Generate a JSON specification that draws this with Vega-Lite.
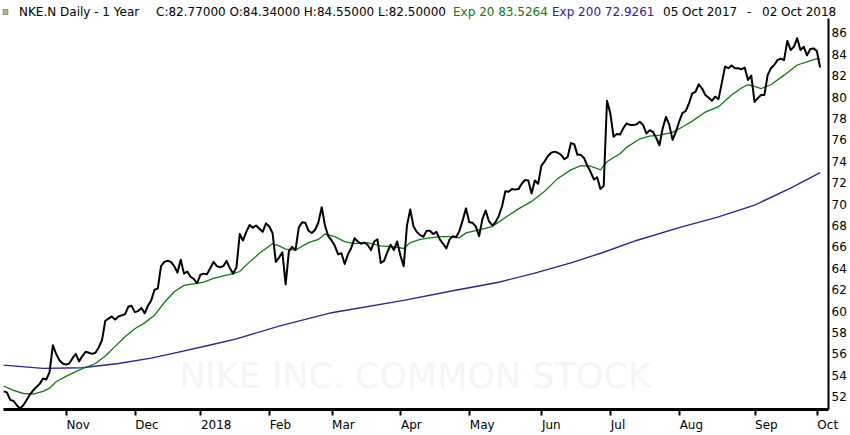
{
  "$schema": "https://vega.github.io/schema/vega-lite/v6.json",
  "description": "NKE.N daily close with 20 and 200 day exponential averages, Oct 2017 - Oct 2018",
  "width": 825,
  "height": 391,
  "autosize": "none",
  "padding": {"left": 3, "top": 18, "right": 22, "bottom": 26},
  "background": "white",
  "config": {"view": {"stroke": null}, "font": "DejaVu Sans"},
  "resolve": {"axis": {"x": "independent", "y": "independent"}},
  "datasets": {
    "close": [
      {"day":0,"close":52.5},{"day":1,"close":52.4},{"day":2,"close":51.7},{"day":3,"close":51.6},{"day":4,"close":51.2},
      {"day":5,"close":50.9},{"day":6,"close":51.2},{"day":7,"close":51.7},{"day":8,"close":52.2},{"day":9,"close":52.6},
      {"day":10,"close":52.9},{"day":11,"close":53.2},{"day":12,"close":53.7},{"day":13,"close":53.6},{"day":14,"close":54.3},
      {"day":15,"close":56.8},{"day":16,"close":56.0},{"day":17,"close":55.4},{"day":18,"close":55.1},{"day":19,"close":55.0},
      {"day":20,"close":55.1},{"day":21,"close":55.6},{"day":22,"close":56.0},{"day":23,"close":55.3},{"day":24,"close":55.8},
      {"day":25,"close":56.2},{"day":26,"close":56.1},{"day":27,"close":56.0},{"day":28,"close":56.1},{"day":29,"close":56.6},
      {"day":30,"close":57.3},{"day":31,"close":59.1},{"day":32,"close":59.3},{"day":33,"close":59.5},{"day":34,"close":59.2},
      {"day":35,"close":59.5},{"day":36,"close":59.6},{"day":37,"close":59.7},{"day":38,"close":60.4},{"day":39,"close":60.5},
      {"day":40,"close":59.9},{"day":41,"close":60.0},{"day":42,"close":60.3},{"day":43,"close":59.8},{"day":44,"close":60.5},
      {"day":45,"close":61.0},{"day":46,"close":62.0},{"day":47,"close":62.1},{"day":48,"close":64.2},{"day":49,"close":64.6},
      {"day":50,"close":64.7},{"day":51,"close":64.6},{"day":52,"close":64.2},{"day":53,"close":63.6},{"day":54,"close":64.8},
      {"day":55,"close":63.5},{"day":56,"close":63.7},{"day":57,"close":63.2},{"day":58,"close":63.0},{"day":59,"close":62.6},
      {"day":60,"close":63.4},{"day":61,"close":63.5},{"day":62,"close":63.45},{"day":63,"close":64.0},{"day":64,"close":64.6},
      {"day":65,"close":64.2},{"day":66,"close":64.1},{"day":67,"close":64.2},{"day":68,"close":64.7},{"day":69,"close":64.0},
      {"day":70,"close":63.5},{"day":71,"close":64.1},{"day":72,"close":67.2},{"day":73,"close":66.6},{"day":74,"close":67.4},
      {"day":75,"close":68.05},{"day":76,"close":67.8},{"day":77,"close":68.0},{"day":78,"close":67.7},{"day":79,"close":67.4},
      {"day":80,"close":68.2},{"day":81,"close":67.9},{"day":82,"close":67.3},{"day":83,"close":64.6},{"day":84,"close":65.0},
      {"day":85,"close":65.5},{"day":86,"close":62.5},{"day":87,"close":65.6},{"day":88,"close":66.0},{"day":89,"close":65.7},
      {"day":90,"close":67.8},{"day":91,"close":68.3},{"day":92,"close":68.25},{"day":93,"close":67.5},{"day":94,"close":67.3},
      {"day":95,"close":67.6},{"day":96,"close":68.3},{"day":97,"close":69.7},{"day":98,"close":68.0},{"day":99,"close":67.0},
      {"day":100,"close":66.6},{"day":101,"close":66.1},{"day":102,"close":65.3},{"day":103,"close":65.4},{"day":104,"close":64.4},
      {"day":105,"close":65.3},{"day":106,"close":65.9},{"day":107,"close":66.8},{"day":108,"close":66.5},{"day":109,"close":66.3},
      {"day":110,"close":66.4},{"day":111,"close":66.2},{"day":112,"close":65.7},{"day":113,"close":66.5},{"day":114,"close":66.7},
      {"day":115,"close":64.5},{"day":116,"close":64.7},{"day":117,"close":65.5},{"day":118,"close":66.2},{"day":119,"close":65.7},
      {"day":120,"close":66.5},{"day":121,"close":65.2},{"day":122,"close":64.2},{"day":123,"close":68.0},{"day":124,"close":69.5},
      {"day":125,"close":67.9},{"day":126,"close":67.4},{"day":127,"close":67.1},{"day":128,"close":66.95},{"day":129,"close":67.5},
      {"day":130,"close":67.5},{"day":131,"close":67.2},{"day":132,"close":67.4},{"day":133,"close":66.7},{"day":134,"close":66.3},
      {"day":135,"close":65.85},{"day":136,"close":66.7},{"day":137,"close":67.0},{"day":138,"close":66.9},{"day":139,"close":67.5},
      {"day":140,"close":68.5},{"day":141,"close":69.6},{"day":142,"close":68.3},{"day":143,"close":68.25},{"day":144,"close":67.9},
      {"day":145,"close":67.0},{"day":146,"close":68.6},{"day":147,"close":69.4},{"day":148,"close":68.4},{"day":149,"close":68.0},
      {"day":150,"close":68.3},{"day":151,"close":68.9},{"day":152,"close":69.8},{"day":153,"close":71.2},{"day":154,"close":71.15},
      {"day":155,"close":71.4},{"day":156,"close":71.35},{"day":157,"close":71.4},{"day":158,"close":71.9},{"day":159,"close":72.25},
      {"day":160,"close":72.2},{"day":161,"close":71.0},{"day":162,"close":72.2},{"day":163,"close":71.9},{"day":164,"close":73.6},
      {"day":165,"close":74.0},{"day":166,"close":74.5},{"day":167,"close":74.8},{"day":168,"close":74.9},{"day":169,"close":74.8},
      {"day":170,"close":74.6},{"day":171,"close":74.2},{"day":172,"close":74.4},{"day":173,"close":75.7},{"day":174,"close":75.6},
      {"day":175,"close":74.6},{"day":176,"close":74.6},{"day":177,"close":74.3},{"day":178,"close":73.6},{"day":179,"close":73.0},
      {"day":180,"close":72.3},{"day":181,"close":72.5},{"day":182,"close":71.4},{"day":183,"close":71.7},{"day":184,"close":79.65},
      {"day":185,"close":78.5},{"day":186,"close":76.3},{"day":187,"close":76.55},{"day":188,"close":76.5},{"day":189,"close":77.1},
      {"day":190,"close":77.55},{"day":191,"close":77.4},{"day":192,"close":77.4},{"day":193,"close":77.45},{"day":194,"close":77.7},
      {"day":195,"close":77.4},{"day":196,"close":76.6},{"day":197,"close":76.9},{"day":198,"close":76.75},{"day":199,"close":76.2},
      {"day":200,"close":75.5},{"day":201,"close":77.1},{"day":202,"close":78.15},{"day":203,"close":77.4},{"day":204,"close":76.0},
      {"day":205,"close":76.75},{"day":206,"close":77.7},{"day":207,"close":78.5},{"day":208,"close":78.7},{"day":209,"close":79.4},
      {"day":210,"close":80.35},{"day":211,"close":80.5},{"day":212,"close":81.2},{"day":213,"close":80.8},{"day":214,"close":80.2},
      {"day":215,"close":79.95},{"day":216,"close":79.65},{"day":217,"close":80.05},{"day":218,"close":79.8},{"day":219,"close":81.3},
      {"day":220,"close":82.85},{"day":221,"close":82.7},{"day":222,"close":82.95},{"day":223,"close":82.7},{"day":224,"close":82.7},
      {"day":225,"close":82.6},{"day":226,"close":82.75},{"day":227,"close":81.6},{"day":228,"close":82.0},{"day":229,"close":79.55},
      {"day":230,"close":79.9},{"day":231,"close":80.2},{"day":232,"close":80.2},{"day":233,"close":82.05},{"day":234,"close":82.7},
      {"day":235,"close":83.0},{"day":236,"close":83.45},{"day":237,"close":83.6},{"day":238,"close":83.45},{"day":239,"close":85.25},
      {"day":240,"close":84.4},{"day":241,"close":84.7},{"day":242,"close":85.5},{"day":243,"close":84.4},{"day":244,"close":84.7},
      {"day":245,"close":83.9},{"day":246,"close":84.5},{"day":247,"close":84.55},{"day":248,"close":84.3},{"day":249,"close":82.77}
    ],
    "ema20": [
      {"day":0,"ema20":53.0},{"day":3,"ema20":52.6},{"day":6,"ema20":52.3},{"day":9,"ema20":52.25},{"day":12,"ema20":52.5},
      {"day":14,"ema20":52.8},{"day":16,"ema20":53.4},{"day":19,"ema20":53.9},{"day":22,"ema20":54.35},{"day":25,"ema20":54.75},
      {"day":28,"ema20":55.1},{"day":31,"ema20":55.8},{"day":34,"ema20":56.7},{"day":37,"ema20":57.6},{"day":40,"ema20":58.35},
      {"day":43,"ema20":58.9},{"day":46,"ema20":59.6},{"day":49,"ema20":60.8},{"day":52,"ema20":61.8},{"day":55,"ema20":62.4},
      {"day":58,"ema20":62.55},{"day":61,"ema20":62.7},{"day":64,"ema20":63.05},{"day":67,"ema20":63.3},{"day":70,"ema20":63.5},
      {"day":72,"ema20":63.7},{"day":75,"ema20":64.6},{"day":78,"ema20":65.4},{"day":82,"ema20":66.3},{"day":84,"ema20":66.1},
      {"day":86,"ema20":65.8},{"day":89,"ema20":65.7},{"day":93,"ema20":66.4},{"day":96,"ema20":66.7},{"day":98,"ema20":67.2},
      {"day":101,"ema20":66.95},{"day":104,"ema20":66.5},{"day":107,"ema20":66.3},{"day":111,"ema20":66.4},{"day":115,"ema20":66.1},
      {"day":119,"ema20":66.0},{"day":122,"ema20":65.85},{"day":124,"ema20":66.4},{"day":127,"ema20":66.7},{"day":130,"ema20":66.85},
      {"day":133,"ema20":66.95},{"day":136,"ema20":66.95},{"day":139,"ema20":66.85},{"day":141,"ema20":67.3},{"day":145,"ema20":67.6},
      {"day":149,"ema20":67.9},{"day":153,"ema20":68.75},{"day":157,"ema20":69.55},{"day":161,"ema20":70.25},{"day":165,"ema20":71.2},
      {"day":169,"ema20":72.4},{"day":173,"ema20":73.2},{"day":176,"ema20":73.6},{"day":179,"ema20":73.55},{"day":182,"ema20":73.2},
      {"day":184,"ema20":73.95},{"day":186,"ema20":74.35},{"day":188,"ema20":74.7},{"day":190,"ema20":75.3},{"day":194,"ema20":76.1},
      {"day":197,"ema20":76.35},{"day":200,"ema20":76.45},{"day":204,"ema20":76.7},{"day":207,"ema20":77.2},{"day":210,"ema20":77.75},
      {"day":214,"ema20":78.6},{"day":218,"ema20":79.1},{"day":222,"ema20":80.2},{"day":225,"ema20":80.85},{"day":227,"ema20":81.15},
      {"day":229,"ema20":81.0},{"day":231,"ema20":80.8},{"day":234,"ema20":81.15},{"day":238,"ema20":82.05},{"day":242,"ema20":83.0},
      {"day":245,"ema20":83.3},{"day":248,"ema20":83.6},{"day":249,"ema20":83.53}
    ],
    "ema200": [
      {"day":0,"ema200":54.95},{"day":12,"ema200":54.65},{"day":24,"ema200":54.7},{"day":35,"ema200":55.1},{"day":45,"ema200":55.6},
      {"day":51,"ema200":56.0},{"day":64,"ema200":56.9},{"day":71,"ema200":57.4},{"day":84,"ema200":58.6},{"day":100,"ema200":59.85},
      {"day":122,"ema200":61.0},{"day":137,"ema200":61.9},{"day":151,"ema200":62.7},{"day":162,"ema200":63.55},{"day":173,"ema200":64.5},
      {"day":183,"ema200":65.5},{"day":193,"ema200":66.6},{"day":206,"ema200":67.8},{"day":218,"ema200":68.8},{"day":229,"ema200":69.9},
      {"day":240,"ema200":71.5},{"day":249,"ema200":72.93}
    ]
  },
  "layer": [
    {
      "data": {"values": [{}]},
      "mark": {"type": "text", "text": "NIKE INC. COMMON STOCK", "fontSize": 35, "color": "#f4f4f4", "align": "center", "baseline": "middle"},
      "encoding": {
        "x": {"datum": 125.45, "type": "quantitative", "scale": {"domain": [-0.2, 251.4], "nice": false, "zero": false}, "axis": null},
        "y": {"datum": 53.84, "type": "quantitative", "scale": {"domain": [50.85, 87.39], "nice": false, "zero": false}, "axis": null}
      }
    },
    {
      "data": {"name": "ema200"},
      "mark": {"type": "line", "color": "#34208f", "strokeWidth": 1.4},
      "encoding": {
        "x": {"field": "day", "type": "quantitative", "scale": {"domain": [-0.2, 251.4], "nice": false, "zero": false}, "axis": null},
        "y": {"field": "ema200", "type": "quantitative", "scale": {"domain": [50.85, 87.39], "nice": false, "zero": false}, "axis": null}
      }
    },
    {
      "data": {"name": "ema20"},
      "mark": {"type": "line", "color": "#107a10", "strokeWidth": 1.3},
      "encoding": {
        "x": {"field": "day", "type": "quantitative", "scale": {"domain": [-0.2, 251.4], "nice": false, "zero": false}, "axis": null},
        "y": {"field": "ema20", "type": "quantitative", "scale": {"domain": [50.85, 87.39], "nice": false, "zero": false}, "axis": null}
      }
    },
    {
      "data": {"name": "close"},
      "mark": {"type": "line", "color": "black", "strokeWidth": 2, "strokeJoin": "round"},
      "encoding": {
        "x": {
          "field": "day", "type": "quantitative",
          "scale": {"domain": [-0.2, 251.4], "nice": false, "zero": false},
          "axis": {
            "title": null, "grid": false,
            "values": [19, 40, 60, 81, 100, 121, 142, 164, 185, 206, 229, 248],
            "labelExpr": "['Nov','Dec','2018','Feb','Mar','Apr','May','Jun','Jul','Aug','Sep','Oct'][indexof([19,40,60,81,100,121,142,164,185,206,229,248], datum.value)]",
            "domainColor": "black", "domainWidth": 3,
            "tickColor": "black", "tickWidth": 2, "tickSize": 6,
            "labelAlign": "left", "labelFlush": false, "labelOverlap": false, "labelBound": false,
            "labelFont": "DejaVu Sans", "labelFontSize": 12, "labelColor": "black", "labelPadding": 4
          }
        },
        "y": {
          "field": "close", "type": "quantitative",
          "scale": {"domain": [50.85, 87.39], "nice": false, "zero": false},
          "axis": {
            "orient": "right", "title": null, "grid": false,
            "values": [52, 54, 56, 58, 60, 62, 64, 66, 68, 70, 72, 74, 76, 78, 80, 82, 84, 86],
            "domainColor": "black", "domainWidth": 2, "ticks": false, "tickSize": 0,
            "labelFont": "DejaVu Sans", "labelFontSize": 12, "labelColor": "black", "labelPadding": 3,
            "labelFlush": false, "labelOverlap": false, "labelBound": false
          }
        }
      }
    },
    {
      "data": {"values": [{}]},
      "mark": {"type": "point", "shape": "square", "size": 25, "filled": true, "fill": "#9a9a40", "stroke": "#333333", "strokeWidth": 0.6},
      "encoding": {
        "x": {"datum": 0.56, "type": "quantitative", "scale": {"domain": [-0.2, 251.4], "nice": false, "zero": false}, "axis": null},
        "y": {"datum": 87.95, "type": "quantitative", "scale": {"domain": [50.85, 87.39], "nice": false, "zero": false}, "axis": null}
      }
    },
    {
      "data": {"values": [{}]},
      "mark": {"type": "text", "text": "NKE.N Daily - 1 Year", "fontSize": 12, "color": "black", "align": "left", "baseline": "middle"},
      "encoding": {
        "x": {"datum": 4.68, "type": "quantitative", "scale": {"domain": [-0.2, 251.4], "nice": false, "zero": false}, "axis": null},
        "y": {"datum": 87.95, "type": "quantitative", "scale": {"domain": [50.85, 87.39], "nice": false, "zero": false}, "axis": null}
      }
    },
    {
      "data": {"values": [{}]},
      "mark": {"type": "text", "text": "C:82.77000 O:84.34000 H:84.55000 L:82.50000", "fontSize": 12, "color": "black", "align": "left", "baseline": "middle"},
      "encoding": {
        "x": {"datum": 46.46, "type": "quantitative", "scale": {"domain": [-0.2, 251.4], "nice": false, "zero": false}, "axis": null},
        "y": {"datum": 87.95, "type": "quantitative", "scale": {"domain": [50.85, 87.39], "nice": false, "zero": false}, "axis": null}
      }
    },
    {
      "data": {"values": [{}]},
      "mark": {"type": "text", "text": "Exp 20 83.5264", "fontSize": 12, "color": "#107a10", "align": "left", "baseline": "middle"},
      "encoding": {
        "x": {"datum": 137.04, "type": "quantitative", "scale": {"domain": [-0.2, 251.4], "nice": false, "zero": false}, "axis": null},
        "y": {"datum": 87.95, "type": "quantitative", "scale": {"domain": [50.85, 87.39], "nice": false, "zero": false}, "axis": null}
      }
    },
    {
      "data": {"values": [{}]},
      "mark": {"type": "text", "text": "Exp 200 72.9261", "fontSize": 12, "color": "#34208f", "align": "left", "baseline": "middle"},
      "encoding": {
        "x": {"datum": 167.23, "type": "quantitative", "scale": {"domain": [-0.2, 251.4], "nice": false, "zero": false}, "axis": null},
        "y": {"datum": 87.95, "type": "quantitative", "scale": {"domain": [50.85, 87.39], "nice": false, "zero": false}, "axis": null}
      }
    },
    {
      "data": {"values": [{}]},
      "mark": {"type": "text", "text": "05 Oct 2017", "fontSize": 12, "color": "black", "align": "left", "baseline": "middle"},
      "encoding": {
        "x": {"datum": 201.08, "type": "quantitative", "scale": {"domain": [-0.2, 251.4], "nice": false, "zero": false}, "axis": null},
        "y": {"datum": 87.95, "type": "quantitative", "scale": {"domain": [50.85, 87.39], "nice": false, "zero": false}, "axis": null}
      }
    },
    {
      "data": {"values": [{}]},
      "mark": {"type": "text", "text": "-", "fontSize": 12, "color": "black", "align": "left", "baseline": "middle"},
      "encoding": {
        "x": {"datum": 226.7, "type": "quantitative", "scale": {"domain": [-0.2, 251.4], "nice": false, "zero": false}, "axis": null},
        "y": {"datum": 87.95, "type": "quantitative", "scale": {"domain": [50.85, 87.39], "nice": false, "zero": false}, "axis": null}
      }
    },
    {
      "data": {"values": [{}]},
      "mark": {"type": "text", "text": "02 Oct 2018", "fontSize": 12, "color": "black", "align": "left", "baseline": "middle"},
      "encoding": {
        "x": {"datum": 231.27, "type": "quantitative", "scale": {"domain": [-0.2, 251.4], "nice": false, "zero": false}, "axis": null},
        "y": {"datum": 87.95, "type": "quantitative", "scale": {"domain": [50.85, 87.39], "nice": false, "zero": false}, "axis": null}
      }
    }
  ]
}
